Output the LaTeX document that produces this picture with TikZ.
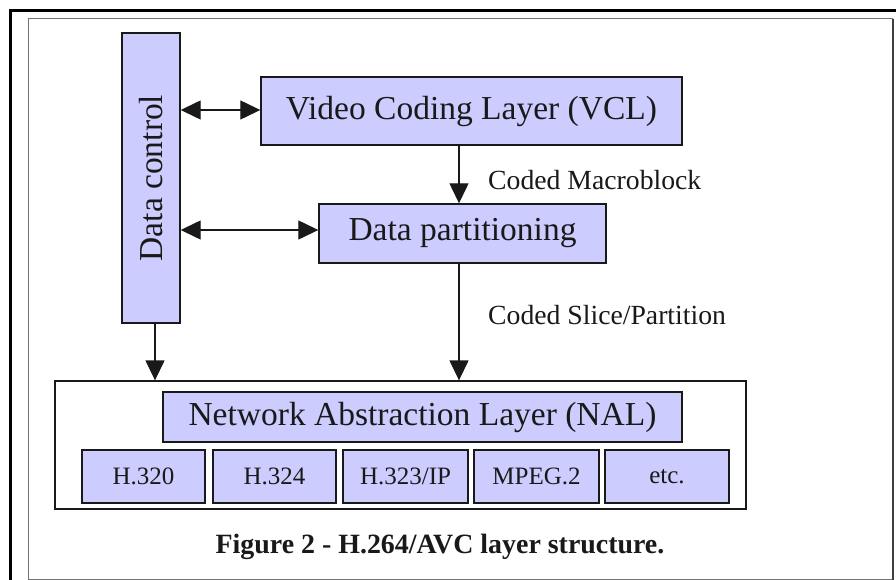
\documentclass[tikz,border=0pt]{standalone}
\usepackage{fontspec}
\setmainfont{Liberation Serif}
\usetikzlibrary{arrows.meta}
\definecolor{lav}{RGB}{204,204,255}
\definecolor{ink}{RGB}{25,25,25}
\begin{document}
\begin{tikzpicture}[x=1pt,y=-1pt,
  box/.style={draw=ink,fill=lav,line width=1.4pt,inner sep=0pt,text=ink},
  bigtxt/.style={font=\fontsize{33.5}{38}\selectfont},
  smalltxt/.style={font=\fontsize{25}{30}\selectfont},
  lbl/.style={font=\fontsize{27.7}{32}\selectfont,text=ink,inner sep=0pt},
  arr/.style={line width=1.3pt,draw=ink,-{Triangle[length=20pt,width=19pt]}},
  darr/.style={line width=1.3pt,draw=ink,{Triangle[length=20pt,width=19pt]}-{Triangle[length=20pt,width=19pt]}}]
\useasboundingbox (0,0) rectangle (896,580);
\fill[white] (0,0) rectangle (896,580);
% frames
\draw[line width=3pt,black] (10,580) -- (10,11) -- (896,11);
\draw[line width=1pt,black!55] (28,579) -- (28,19) -- (893,19);
\draw[line width=1pt,black!55] (28,579) -- (893,579);
\draw[line width=2pt,black!75] (893,19) -- (893,580);
% nodes
\node[box,minimum width=58pt,minimum height=290pt,
  label={[rotate=90,bigtxt,text=ink]center:Data control}] (dc) at (151,178) {};
\node[box,bigtxt,minimum width=421pt,minimum height=68pt] (vcl) at (471.5,111) {Video Coding Layer (VCL)};
\node[box,bigtxt,minimum width=287pt,minimum height=59pt] (dp) at (462.5,233.5) {Data partitioning};
\node[draw=ink,line width=1.3pt,minimum width=691pt,minimum height=128pt,inner sep=0pt] (nalbox) at (400.5,445) {};
\node[box,bigtxt,minimum width=519pt,minimum height=50pt] (nal) at (422.5,417) {Network Abstraction Layer (NAL)};
\node[box,smalltxt,minimum width=123pt,minimum height=53pt] (h320) at (143.5,476.5) {H.320};
\node[box,smalltxt,minimum width=123pt,minimum height=53pt] (h324) at (274.5,476.5) {H.324};
\node[box,smalltxt,minimum width=125pt,minimum height=53pt] (h323) at (405.5,476.5) {H.323/IP};
\node[box,smalltxt,minimum width=125pt,minimum height=53pt] (mpeg) at (536.5,476.5) {MPEG.2};
\node[box,smalltxt,minimum width=124pt,minimum height=53pt] (etc) at (667,476.5) {etc.};
% labels
\node[lbl,anchor=west] (lmb) at (488,180) {Coded Macroblock};
\node[lbl,anchor=west] (lsp) at (488,315) {Coded Slice/Partition};
\node[font=\fontsize{27.9}{32}\selectfont\bfseries,text=ink,inner sep=0pt] (cap) at (440,547) {Figure 2 - H.264/AVC layer structure.};
% connectors
\coordinate (ax) at (459,0);
\coordinate (bx) at (155,0);
\draw[darr] (dc.east |- 0,110) coordinate (d1) -- (vcl.west |- d1);
\draw[darr] (dc.east |- 0,230) coordinate (d2) -- (dp.west |- d2);
\draw[arr] (vcl.south -| ax) -- (dp.north -| ax);
\draw[arr] (dp.south -| ax) -- (nalbox.north -| ax);
\draw[arr] (dc.south -| bx) -- (nalbox.north -| bx);
\end{tikzpicture}
\end{document}
